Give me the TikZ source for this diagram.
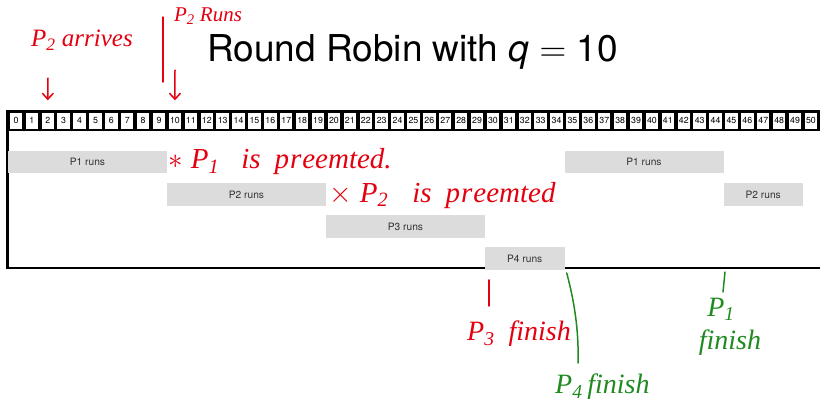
\documentclass[tikz,border=0pt]{standalone}
\usepackage{fix-cm}
\usepackage{fontspec}
\setmainfont{TeX Gyre Heros}
\newfontfamily\handfont{Liberation Serif}
\usetikzlibrary{arrows.meta}

\definecolor{inkred}{HTML}{E3000F}
\definecolor{inkgreen}{HTML}{1F8A1F}
\definecolor{barfill}{HTML}{DCDCDC}
\definecolor{bartext}{HTML}{333333}

\begin{document}
\begin{tikzpicture}[
  x=1pt,
  y=-1pt,
  cell/.style={fill=white,minimum width=12.4pt,minimum height=16.5pt,inner sep=0pt,
    font=\fontsize{8.8}{9}\selectfont},
  bar/.style={fill=barfill,minimum height=22.5pt,inner sep=0pt,text=bartext,
    font=\fontsize{10.2}{12}\selectfont},
  frame/.style={line width=2.6pt},
  redpen/.style={draw=inkred,line width=1.5pt,line cap=round},
  greenpen/.style={draw=inkgreen,line width=1.5pt,line cap=round},
  redhand/.style={text=inkred,inner sep=0pt,font=\handfont\itshape\fontsize{25}{27}\selectfont},
  greenhand/.style={text=inkgreen,inner sep=0pt,font=\handfont\itshape\fontsize{28}{30}\selectfont}
]
\useasboundingbox (0,0) rectangle (820,405);

\node[font=\fontsize{37}{44}\selectfont] (title) at (412.5,52)
  {Round Robin with $\textit{q} = \mbox{10}$};

% time line, one box per time unit
\fill (6,110) rectangle (820,131);
\foreach \t in {0,...,50}
  \node[cell] (c\t) at ({15.95+15.9*\t},120.75) {\t};

\draw[frame] (7.5,131) -- (7.5,268) -- (820,268);

\node[bar,minimum width=159pt] (p1a) at (87.5,162) {P1 runs};
\node[bar,minimum width=159pt] (p2a) at (246.5,194.5) {P2 runs};
\node[bar,minimum width=159pt] (p3a) at (405.5,226.5) {P3 runs};
\node[bar,minimum width=79.5pt] (p4a) at (524.75,258.5) {P4 runs};
\node[bar,minimum width=159pt] (p1b) at (644,162) {P1 runs};
\node[bar,minimum width=79.5pt] (p2b) at (763.25,194.5) {P2 runs};

% pen notes
\node[redhand] (arrive) at (82,40) {P\textsubscript{2} arrives};
\node[redhand,font=\handfont\itshape\fontsize{21}{23}\selectfont] (runs) at (208,16)
  {P\textsubscript{2} Runs};
\coordinate (arrtail) at (48,78);
\coordinate (runtail) at (175,70);
\draw[redpen,-{Straight Barb[length=6pt,width=11pt]}] (arrtail) -- ([yshift=12pt]c2.north);
\draw[redpen,-{Straight Barb[length=6pt,width=11pt]}] (runtail) -- ([yshift=12pt]c10.north);
\draw[redpen] (163,17) -- (163,82);

\node[redhand,anchor=west,font=\handfont\itshape\fontsize{29}{31}\selectfont] (preempt1)
  at ([xshift=1pt]p1a.east)
  {$\ast$\hspace{8pt}P\textsubscript{1}\hspace{22pt}is\hspace{14pt}p\hspace{1pt}r\hspace{1pt}eemted.};
\node[redhand,anchor=west,font=\handfont\itshape\fontsize{29}{31}\selectfont] (preempt2)
  at ([shift={(3,1)}]p2a.east)
  {$\times$\hspace{8pt}P\textsubscript{2}\hspace{24pt}is\hspace{14pt}p\hspace{1pt}r\hspace{1pt}eemted};

\draw[redpen] ([shift={(4,10)}]p4a.south west) -- ([shift={(4,36)}]p4a.south west);
\node[redhand,anchor=west,font=\handfont\itshape\fontsize{28}{30}\selectfont] (fin3)
  at (467,334) {P\textsubscript{3}\hspace{14pt}finish};

\draw[greenpen] ([shift={(2,3)}]p4a.south east) .. controls (574,300) and (579,330) .. (578,363);
\node[greenhand,anchor=west] (fin4) at (555,387) {P\textsubscript{4}\,finish};

\coordinate (tick1) at (725,272);
\draw[greenpen] (tick1) -- ++(-2,20);
\node[greenhand] (fin1p) at (721,309) {P\textsubscript{1}};
\node[greenhand] (fin1) at (730,343) {finish};
\end{tikzpicture}
\end{document}
